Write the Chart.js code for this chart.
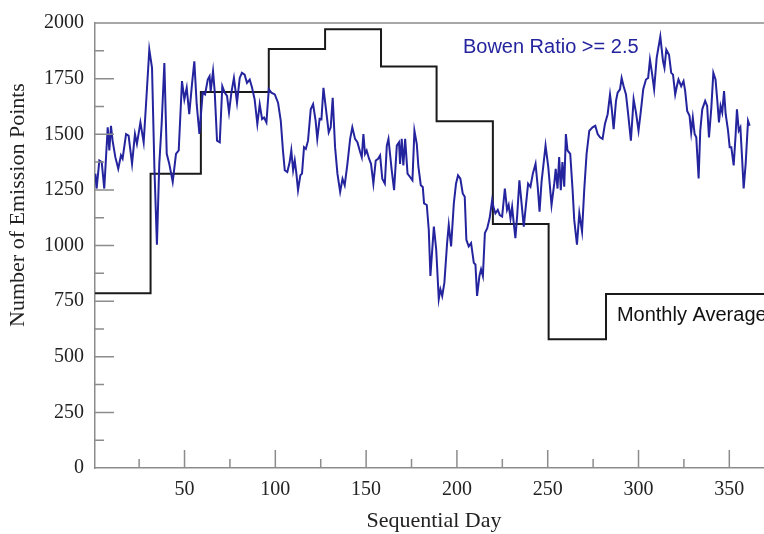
<!DOCTYPE html>
<html>
<head>
<meta charset="utf-8">
<script src="https://cdn.jsdelivr.net/npm/chart.js@4/dist/chart.umd.min.js"></script>
<style>
  body { margin: 0; background: #fff; }
  canvas { display: block; }
</style>
</head>
<body>
<canvas id="myChart" width="764" height="534"></canvas>
<script>
// daily counts, Bowen ratio >= 2.5
const bowenDays = [
  0.9, 1.6, 3.1, 4.4, 5.8, 7.7, 8.6, 9.5, 10.4, 11.9, 13.5, 15.0, 15.9, 17.8, 19.2, 21.1, 22.7, 23.8, 25.7, 27.5,
  28.8, 30.6, 32.1, 33.4, 34.8, 36.1, 37.4, 38.9, 40.2, 41.6, 43.5, 45.3, 46.8, 48.6, 49.9, 51.2, 52.6, 54.1, 55.4, 56.7,
  58.2, 60.0, 61.3, 62.8, 63.8, 64.4, 65.7, 66.6, 67.9, 69.4, 70.8, 72.1, 73.4, 74.5, 75.8, 77.2, 78.9, 80.4, 81.6, 83.1,
  84.4, 85.9, 87.2, 88.6, 90.1, 91.4, 92.7, 93.8, 95.1, 96.4, 97.8, 99.7, 101.5, 103.0, 104.2, 105.2, 106.6, 107.9, 108.8, 109.8,
  110.7, 111.6, 112.5, 113.8, 114.7, 115.8, 116.8, 118.0, 119.5, 120.8, 122.2, 123.1, 124.4, 125.4, 126.5, 128.0, 129.4, 130.5, 131.6, 132.9,
  134.2, 135.7, 137.0, 138.2, 139.7, 141.2, 142.4, 143.9, 145.2, 146.7, 147.6, 148.5, 149.4, 150.3, 151.6, 152.7, 154.0, 155.3, 156.6, 157.7,
  158.9, 160.3, 161.4, 162.3, 164.1, 165.4, 166.9, 168.1, 168.7, 169.6, 170.5, 171.5, 172.8, 174.2, 175.5, 176.6, 177.9, 178.8, 180.1, 181.2,
  181.9, 183.4, 184.5, 185.4, 187.3, 188.6, 190.0, 190.9, 191.9, 193.1, 194.6, 195.5, 196.8, 198.3, 199.5, 200.6, 201.9, 203.2, 204.3, 205.2,
  206.5, 207.8, 209.3, 210.2, 211.1, 212.4, 213.3, 214.3, 215.4, 216.7, 218.0, 219.4, 220.3, 221.2, 222.5, 223.6, 224.9, 226.4, 227.6, 228.5,
  229.5, 230.4, 231.3, 232.2, 233.2, 234.4, 235.6, 236.8, 238.1, 239.2, 240.5, 241.8, 243.3, 244.5, 245.5, 246.6, 247.9, 248.8, 250.3, 252.1,
  253.6, 254.4, 255.4, 256.3, 257.2, 258.1, 259.1, 260.0, 260.9, 262.4, 263.7, 264.6, 266.1, 267.4, 268.9, 270.1, 271.4, 272.9, 274.7, 276.2,
  277.5, 278.8, 280.2, 281.5, 283.0, 284.3, 285.2, 286.3, 287.6, 288.5, 289.8, 290.7, 291.8, 293.1, 294.3, 295.8, 297.3, 298.6, 300.0, 301.3,
  302.6, 304.1, 305.3, 306.3, 307.4, 308.6, 310.0, 312.0, 313.5, 314.3, 315.3, 316.8, 318.0, 319.0, 320.2, 321.1, 322.0, 323.5, 324.8, 325.7,
  326.8, 328.1, 329.0, 329.9, 330.9, 331.8, 333.1, 334.0, 335.1, 336.7, 337.8, 338.8, 340.1, 341.2, 342.4, 343.4, 344.3, 345.2, 346.1, 347.1,
  348.0, 349.3, 350.2, 351.1, 352.4, 353.5, 354.2, 355.2, 356.1, 357.0, 357.9, 359.0, 360.3, 361.2
];
const bowenCounts = [
  1323, 1256, 1382, 1375, 1256, 1531, 1427, 1538, 1470, 1397, 1345, 1405, 1390, 1501, 1494, 1367, 1501, 1457, 1553, 1464,
  1635, 1880, 1798, 1353, 1004, 1367, 1546, 1820, 1412, 1367, 1286, 1412, 1427, 1739, 1657, 1709, 1590, 1724, 1828, 1635,
  1501, 1687, 1679, 1746, 1761, 1694, 1783, 1694, 1471, 1464, 1716, 1687, 1672, 1598, 1687, 1753, 1642, 1753, 1776, 1768,
  1731, 1746, 1709, 1657, 1546, 1635, 1568, 1575, 1553, 1702, 1687, 1679, 1642, 1560, 1427, 1338, 1330, 1375, 1427, 1338,
  1382, 1323, 1249, 1316, 1323, 1442, 1434, 1471, 1612, 1635, 1560, 1479, 1570, 1568, 1709, 1605, 1508, 1531, 1664, 1442,
  1323, 1241, 1300, 1271, 1367, 1479, 1531, 1479, 1464, 1420, 1397, 1501, 1412, 1427, 1390, 1367, 1278, 1382, 1390, 1405,
  1300, 1278, 1449, 1479, 1338, 1249, 1449, 1464, 1367, 1479, 1360, 1479, 1323, 1308, 1293, 1516, 1456, 1353, 1271, 1263,
  1189, 1182, 1071, 863, 1085, 981, 759, 803, 773, 833, 1011, 1092, 996, 1189, 1278, 1315, 1300, 1234, 1219, 1026,
  996, 1011, 922, 915, 773, 863, 893, 863, 1056, 1078, 1122, 1204, 1167, 1145, 1160, 1137, 1130, 1256, 1160, 1182,
  1122, 1174, 1100, 1033, 1137, 1293, 1189, 1085, 1189, 1278, 1264, 1323, 1367, 1264, 1152, 1286, 1382, 1449, 1353, 1182,
  1278, 1345, 1256, 1397, 1249, 1375, 1264, 1501, 1427, 1412, 1249, 1115, 1004, 1145, 1063, 1249, 1412, 1516, 1531, 1538,
  1501, 1486, 1479, 1546, 1590, 1679, 1620, 1523, 1650, 1687, 1702, 1753, 1716, 1679, 1590, 1471, 1657, 1598, 1516, 1605,
  1702, 1746, 1753, 1835, 1776, 1702, 1843, 1939, 1828, 1798, 1880, 1857, 1776, 1768, 1679, 1716, 1746, 1716, 1739, 1694,
  1605, 1583, 1508, 1575, 1501, 1486, 1301, 1516, 1612, 1650, 1627, 1486, 1620, 1776, 1746, 1650, 1553, 1627, 1598, 1694,
  1590, 1516, 1442, 1442, 1360, 1501, 1612, 1516, 1531, 1397, 1256, 1367, 1560, 1538
];

// monthly average steps: day where each level starts, and the level
const monthStarts = [0.7, 31.3, 59.0, 96.4, 127.4, 158.2, 188.8, 219.8, 250.5, 282.1];
const monthlyAvg = [785, 1323, 1690, 1883, 1972, 1804, 1558, 1097, 579, 782];

const xTicks = [50, 100, 150, 200, 250, 300, 350];
const yTicks = [0, 250, 500, 750, 1000, 1250, 1500, 1750, 2000];

const xMin = 0.7, xMax = 369.1;

const bowenPoints = bowenDays.map((d, i) => ({ x: d, y: bowenCounts[i] }));
const monthPoints = monthStarts.map((d, i) => ({ x: d, y: monthlyAvg[i] }));
monthPoints.push({ x: xMax, y: monthlyAvg[monthlyAvg.length - 1] });

const axisGray = '#8c8c8c';
const blue = '#24249e';
const serif = '"Liberation Serif", "Times New Roman", serif';
const sans = '"Liberation Sans", Arial, sans-serif';

// inward tick marks, frame line, labels and axis titles
const decorations = {
    id: 'decorations',
    afterDraw(chart) {
        const { ctx, chartArea, scales } = chart;
        const xs = scales.x, ys = scales.y;
        ctx.save();
        ctx.strokeStyle = axisGray;
        ctx.lineWidth = 1.5;
        ctx.beginPath();
        ctx.moveTo(chartArea.left, chartArea.top);
        ctx.lineTo(chartArea.right, chartArea.top);
        for (let v = 25; v < xMax; v += 25) {
            const px = xs.getPixelForValue(v);
            const len = v % 50 === 0 ? 18 : 9;
            ctx.moveTo(px, chartArea.bottom);
            ctx.lineTo(px, chartArea.bottom - len);
        }
        for (let v = 125; v < 2000; v += 125) {
            const py = ys.getPixelForValue(v);
            const len = v % 250 === 0 ? 19 : 9;
            ctx.moveTo(chartArea.left, py);
            ctx.lineTo(chartArea.left + len, py);
        }
        ctx.stroke();

        ctx.textBaseline = 'middle';
        ctx.textAlign = 'left';
        ctx.font = '20px ' + sans;
        ctx.fillStyle = blue;
        ctx.fillText('Bowen Ratio >= 2.5', xs.getPixelForValue(203.3), ys.getPixelForValue(1890));
        ctx.fillStyle = '#111';
        ctx.fillText('Monthly Average', xs.getPixelForValue(288.1), ys.getPixelForValue(685));

        ctx.fillStyle = '#222';
        ctx.font = '22px ' + serif;
        ctx.textAlign = 'center';
        ctx.fillText('Sequential Day', 434, 521);
        ctx.translate(18, 205);
        ctx.rotate(-Math.PI / 2);
        ctx.fillText('Number of Emission Points', 0, 0);
        ctx.restore();
    }
};

const ctx = document.getElementById('myChart').getContext('2d');

const myChart = new Chart(ctx, {
    type: 'line',
    data: {
        datasets: [
            {
                label: 'Bowen Ratio >= 2.5',
                data: bowenPoints,
                borderColor: blue,
                borderWidth: 2,
                pointRadius: 0,
                tension: 0
            },
            {
                label: 'Monthly Average',
                data: monthPoints,
                borderColor: '#1a1a1a',
                borderWidth: 2,
                pointRadius: 0,
                stepped: 'before'
            }
        ]
    },
    options: {
        responsive: false,
        animation: false,
        layout: { padding: { top: 17, right: 0, left: 0, bottom: 0 } },
        plugins: {
            legend: { display: false },
            tooltip: { enabled: false }
        },
        scales: {
            x: {
                type: 'linear',
                min: xMin,
                max: xMax,
                afterBuildTicks: (axis) => { axis.ticks = xTicks.map(v => ({ value: v })); },
                afterFit: (axis) => { axis.height = 66; },
                grid: { drawOnChartArea: false, drawTicks: false },
                border: { display: true, color: axisGray, width: 1.5 },
                ticks: {
                    padding: 10,
                    color: '#222',
                    font: { family: serif, size: 20 },
                    maxRotation: 0,
                    callback: (v) => String(v)
                }
            },
            y: {
                min: 0,
                max: 2000,
                afterBuildTicks: (axis) => { axis.ticks = yTicks.map(v => ({ value: v })); },
                afterFit: (axis) => { axis.width = 95; },
                grid: { drawOnChartArea: false, drawTicks: false },
                border: { display: true, color: axisGray, width: 1.5 },
                ticks: {
                    padding: 11,
                    color: '#222',
                    font: { family: serif, size: 20 },
                    callback: (v) => String(v)
                }
            }
        }
    },
    plugins: [decorations]
});
</script>
</body>
</html>
